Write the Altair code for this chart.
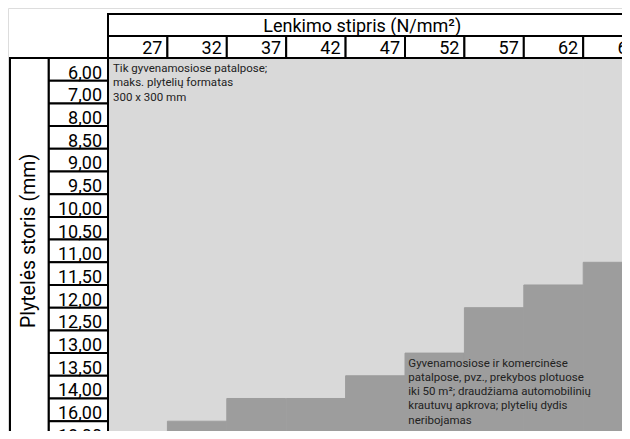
import altair as alt
import pandas as pd

# ---- data ----
strengths = ["27", "32", "37", "42", "47", "52", "57", "62", "69"]
thickness = ["6,00", "7,00", "8,00", "8,50", "9,00", "9,50", "10,00", "10,50",
             "11,00", "11,50", "12,00", "12,50", "13,00", "13,50", "14,00",
             "16,00", "18,00"]
# first thickness row that belongs to the dark zone, per strength column
dark_from = [None, "18,00", "16,00", "16,00", "14,00", "13,50", "12,50", "12,00", "11,50"]
header_title = "Lenkimo stipris (N/mm²)"
axis_title = "Plytelės storis (mm)"
note_light = ["Tik gyvenamosiose patalpose;", "maks. plytelių formatas", "300 x 300 mm"]
note_dark = ["Gyvenamosiose ir komercinėse", "patalpose, pvz., prekybos plotuose",
             "iki 50 m²; draudžiama automobilinių", "krautuvų apkrova; plytelių dydis",
             "neribojamas"]
note_anchor = [("27", "6,00"), ("52", "13,50")]

FONT = "Roboto"
nC, nR = len(strengths), len(thickness)

# ---- tables built from the arrays ----
zones = []
for i, s in enumerate(strengths):
    k = thickness.index(dark_from[i]) if dark_from[i] else nR
    zones.append(dict(x0=i, x1=i + 1, y0=0, y1=k, zone="light"))
    if k < nR:
        zones.append(dict(x0=i, x1=i + 1, y0=k, y1=nR, zone="dark"))
zones_df = pd.DataFrame(zones)

HDR = 0.97  # header row height in row units
boxes = [dict(x0=0, x1=nC, y0=-2 * HDR, y1=-HDR)]
boxes += [dict(x0=i, x1=i + 1, y0=-HDR, y1=0) for i in range(nC)]
boxes += [dict(x0=-1, x1=0, y0=r, y1=r + 1) for r in range(nR)]
boxes += [dict(x0=-1.65, x1=-1, y0=0, y1=nR)]
boxes_df = pd.DataFrame(boxes)

col_df = pd.DataFrame(dict(x=[i + 1 for i in range(nC)], y=[0] * nC, t=strengths))
row_df = pd.DataFrame(dict(x=[0] * nR, y=[r + 1 for r in range(nR)], t=thickness))

X = alt.Scale(domain=[-1.6835, 8.653], nice=False, zero=False)
Y = alt.Scale(domain=[-2.2026, 16.432], nice=False, zero=False, reverse=True)

def enc_rect():
    return dict(x=alt.X("x0:Q", scale=X, axis=None), x2="x1",
                y=alt.Y("y0:Q", scale=Y, axis=None), y2="y1")

def enc_text():
    return dict(x=alt.X("x:Q", scale=X, axis=None),
                y=alt.Y("y:Q", scale=Y, axis=None), text="t:N")

zone_scale = alt.Scale(domain=["light", "dark"], range=["#d9d9d9", "#9d9d9d"])
zone_layer = alt.Chart(zones_df).mark_rect(clip=True, strokeWidth=1).encode(
    **enc_rect(),
    color=alt.Color("zone:N", scale=zone_scale, legend=None),
    stroke=alt.Stroke("zone:N", scale=zone_scale, legend=None),
)

box_layer = alt.Chart(boxes_df).mark_rect(
    clip=True, fill="white", stroke="black", strokeWidth=2).encode(**enc_rect())

col_text = alt.Chart(col_df).mark_text(
    clip=True, align="right", baseline="alphabetic", dx=-5, dy=-4,
    font=FONT, fontSize=18, color="black").encode(**enc_text())

row_text = alt.Chart(row_df).mark_text(
    clip=True, align="right", baseline="alphabetic", dx=-6, dy=-2,
    font=FONT, fontSize=18, color="black").encode(**enc_text())

note_layers = []
for lines, (s, t), (ox, oy) in zip([note_light, note_dark], note_anchor,
                                   [(5, 14.3), (3.3, 13.8)]):
    ndf = pd.DataFrame(dict(x=[strengths.index(s)], y=[thickness.index(t)],
                            t=["\n".join(lines)]))
    note_layers.append(alt.Chart(ndf).mark_text(
        clip=True, align="left", baseline="alphabetic", lineBreak="\n",
        lineHeight=14.2, dx=ox, dy=oy,
        font=FONT, fontSize=11.5, color="#222222").encode(**enc_text()))

title_df = pd.DataFrame(dict(x=[4.28], y=[-HDR], t=[header_title]))
title_text = alt.Chart(title_df).mark_text(
    clip=True, align="center", baseline="alphabetic", dy=-3.5,
    font=FONT, fontSize=18, color="black").encode(**enc_text())

ytitle_df = pd.DataFrame(dict(x=[-1.325], y=[8.06], t=[axis_title]))
ytitle_text = alt.Chart(ytitle_df).mark_text(
    clip=True, align="center", baseline="middle", angle=270,
    font=FONT, fontSize=19.5, color="black").encode(**enc_text())

chart = alt.layer(zone_layer, box_layer, col_text, row_text, *note_layers,
                  title_text, ytitle_text).properties(
    width=614, height=423, padding=0,
    autosize=alt.AutoSizeParams(type="none"),
).configure_view(stroke=None).configure(background="white")

chart.save("out.html", embed_options={"renderer": "svg", "actions": False})
